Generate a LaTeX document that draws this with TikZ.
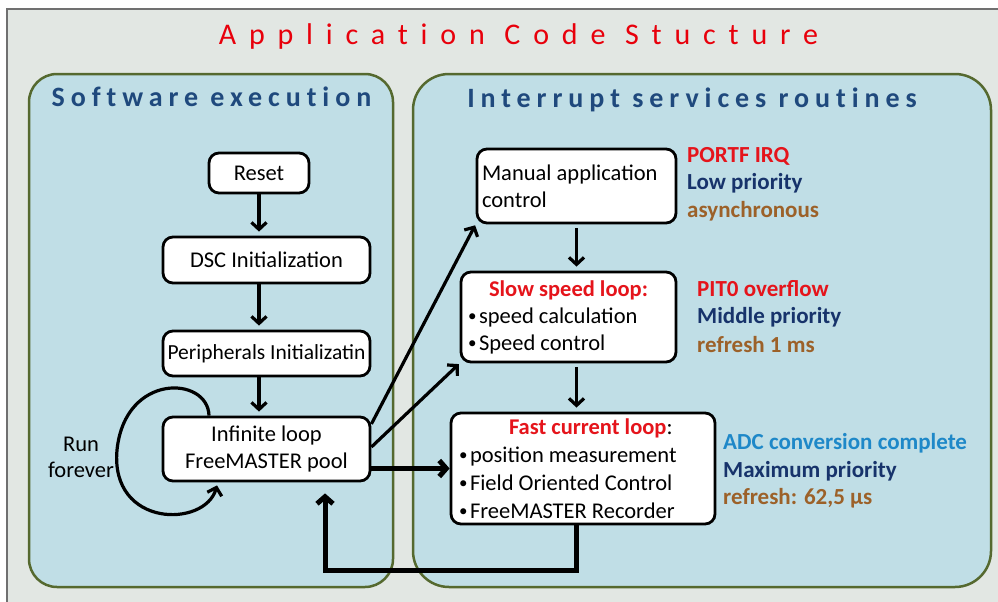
\documentclass[tikz,border=0pt]{standalone}
\usepackage{fontspec}
\setmainfont{Carlito}
\usetikzlibrary{arrows.meta}
\definecolor{framebg}{HTML}{E2E7E3}
\definecolor{frameline}{HTML}{707070}
\definecolor{panelbg}{HTML}{C0DEE6}
\definecolor{panelline}{HTML}{55692F}
\definecolor{headblue}{HTML}{1F497D}
\definecolor{titlered}{HTML}{E8000B}
\definecolor{lblred}{HTML}{E5141B}
\definecolor{lblnavy}{HTML}{17336B}
\definecolor{lblbrown}{HTML}{9C6129}
\definecolor{lblblue}{HTML}{1E88C8}
\newcommand{\bul}{\makebox[14pt][l]{\hspace{3pt}\raisebox{1.5pt}{\fontsize{17}{17}\selectfont•}}}
\begin{document}
\begin{tikzpicture}[x=1pt,y=-1pt,
  box/.style={draw=black, line width=2.8pt, fill=white, rounded corners=10pt, inner sep=0pt,
    font=\fontsize{22.5}{27}\selectfont},
  panel/.style={draw=panelline, line width=2.5pt, fill=panelbg},
  lbl/.style={anchor=base west, inner sep=0pt, font=\bfseries\fontsize{23}{27}\selectfont},
  head/.style={anchor=base, inner sep=0pt, text=headblue,
    font=\bfseries\fontsize{28}{30}\selectfont\addfontfeatures{LetterSpace=21.2,Ligatures=NoCommon}},
  arr/.style={line width=3.2pt, -{Straight Barb[length=7pt,width=15pt]}, shorten >=4pt},
  arrthick/.style={line width=5pt, -{Straight Barb[length=7pt,width=16pt]}},
]
\useasboundingbox (0,0) rectangle (998,602);
\fill[white] (0,0) rectangle (998,602);
\draw[fill=framebg, draw=frameline, line width=1.5pt] (7,9) rectangle (1004,608);

% title
\node[anchor=base, inner sep=0pt, text=titlered,
  font=\fontsize{30}{32}\selectfont\addfontfeatures{LetterSpace=42.8,Ligatures=NoCommon}] (title) at (518.5,45) {Application Code Stucture};

% panels
\draw[panel, rounded corners=28pt] (29,74) rectangle (393,587);
\draw[panel, rounded corners=36pt] (413,74) rectangle (991,587);
\node[head] (h1) at (211.5,106) {Software execution};
\node[head] (h2) at (692,107) {Interrupt services routines};

% left column boxes
\node[box, minimum width=100pt, minimum height=40pt] (reset) at (259,173) {Reset};
\node[box, minimum width=207pt, minimum height=46pt] (dsc) at (266.5,260) {DSC Initialization};
\node[box, minimum width=207pt, minimum height=45pt, font=\fontsize{21.5}{27}\selectfont] (per) at (266.5,353.5) {Peripherals Initializatin};
\node[box, minimum width=207pt, minimum height=64pt, align=center] (inf) at (266.5,449)
  {Infinite loop\\FreeMASTER pool};
\node[align=center, inner sep=0pt, font=\fontsize{22.5}{26}\selectfont] (run) at (81,457) {Run\\forever};

% right column boxes
\node[box, minimum width=199pt, minimum height=74pt, text width=189pt, align=flush left] (man) at (576.5,186)
  {Manual application\\control};
\node[box, minimum width=215pt, minimum height=90pt, text width=207pt, align=flush left] (slow) at (568.5,317)
  {\makebox[207pt][c]{\color{lblred}\bfseries Slow speed loop:}\\\bul speed calculation\\\bul Speed control};
\node[box, minimum width=264pt, minimum height=111pt, text width=254pt, align=flush left,
  font=\fontsize{22.5}{28}\selectfont] (fast) at (583,468.5)
  {\hspace*{53pt}{\color{lblred}\bfseries Fast current loop}:\\\bul position measurement\\\bul Field Oriented Control\\\bul FreeMASTER Recorder};

% labels
\node[lbl, text=lblred] (l1a) at (687,162) {PORTF IRQ};
\node[lbl, text=lblnavy] (l1b) at (687,189) {Low priority};
\node[lbl, text=lblbrown] (l1c) at (687,217) {asynchronous};
\node[lbl, text=lblred] (l2a) at (697,296) {PIT0 overflow};
\node[lbl, text=lblnavy] (l2b) at (697,323) {Middle priority};
\node[lbl, text=lblbrown] (l2c) at (697,352) {refresh 1 ms};
\node[lbl, text=lblblue] (l3a) at (723,449) {ADC conversion complete};
\node[lbl, text=lblnavy] (l3b) at (723,477) {Maximum priority};
\node[lbl, text=lblbrown] (l3c) at (723,504) {refresh: 62,5 µs};

% arrows left column
\draw[arr] (reset.south) -- (reset.south |- dsc.north);
\draw[arr] (reset.south |- dsc.south) -- (reset.south |- per.north);
\draw[arr] (reset.south |- per.south) -- (reset.south |- inf.north);
% run forever loop
\draw[arr, shorten >=0pt] ([xshift=-57.5pt]inf.north) .. controls (208,376) and (125,372) .. (117,450)
  .. controls (110,528) and (205,528) .. ([xshift=-49.5pt,yshift=-3pt]inf.south);

% arrows right column
\draw[arr, shorten <=4pt] (man.south) -- (man.south |- slow.north);
\draw[arr, shorten <=4pt] (man.south |- slow.south) -- (man.south |- fast.north);

% from infinite loop
\draw[arr, shorten >=1pt] ([yshift=25pt]inf.east) -- (man.south west);
\draw[arr, shorten >=1pt] ([yshift=2pt]inf.east) -- (slow.south west);
\draw[arrthick] (inf.east |- fast.west) -- (fast.west);
\draw[arrthick] (man.south |- fast.south) -- ++(0,45) -| ([xshift=58.5pt,yshift=-11pt]inf.south);
\end{tikzpicture}
\end{document}
